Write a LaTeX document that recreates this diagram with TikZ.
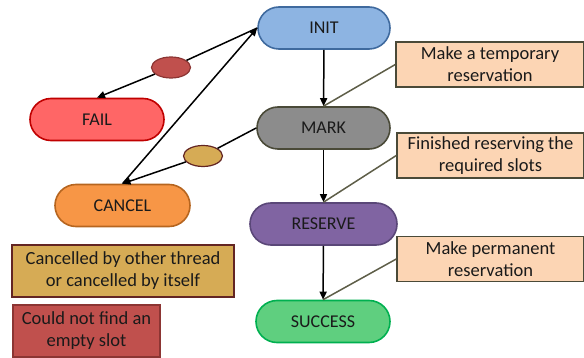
\documentclass[tikz,border=0pt]{standalone}
\usepackage{fontspec}
\setmainfont{Carlito}
\usetikzlibrary{arrows.meta,shapes.geometric}
\definecolor{initf}{HTML}{8DB4E2}\definecolor{initd}{HTML}{3F6A9E}
\definecolor{markf}{HTML}{8C8C8C}\definecolor{markd}{HTML}{4A4A38}
\definecolor{resf}{HTML}{8064A2}\definecolor{resd}{HTML}{5A4778}
\definecolor{sucf}{HTML}{5FCF7F}\definecolor{sucd}{HTML}{00B050}
\definecolor{failf}{HTML}{FF6666}\definecolor{faild}{HTML}{C00000}
\definecolor{canf}{HTML}{F79646}\definecolor{cand}{HTML}{B6651F}
\definecolor{notef}{HTML}{FCD5B4}\definecolor{noted}{HTML}{4A4A38}
\definecolor{goldf}{HTML}{D6AB55}\definecolor{goldd}{HTML}{632523}
\definecolor{redf}{HTML}{C0504D}\definecolor{redd}{HTML}{8C3533}
\definecolor{calline}{HTML}{5E5E48}
\definecolor{txt}{HTML}{1A1A1A}
\tikzset{
  state/.style={draw, line width=1.6pt, rounded corners=21pt, minimum height=42pt, font=\fontsize{18}{21}\selectfont, text=txt, inner sep=0pt},
  note/.style={draw=noted, fill=notef, line width=1.4pt, minimum height=45pt, align=center, font=\fontsize{18.5}{22}\selectfont, text=txt, inner sep=0pt},
  legend/.style={line width=1.4pt, align=center, font=\fontsize{18.5}{22}\selectfont, text=txt, inner sep=0pt},
  blob/.style={ellipse, line width=1.2pt, minimum width=39pt, minimum height=21pt, inner sep=0pt},
  arr/.style={-{Stealth[length=8pt,width=7pt,inset=0pt]}, line width=1.5pt},
  plain/.style={line width=1.5pt},
  callout/.style={draw=calline, line width=1.5pt}
}
\begin{document}
\begin{tikzpicture}[x=1pt,y=-1pt]
\useasboundingbox (0,0) rectangle (584,358);
\node[state, fill=initf, draw=initd, minimum width=132pt] (init) at (324,28) {INIT};
\node[state, fill=markf, draw=markd, minimum width=133pt] (mark) at (323.5,128) {MARK};
\node[state, fill=resf, draw=resd, minimum width=147pt] (reserve) at (323.5,224) {RESERVE};
\node[state, fill=sucf, draw=sucd, minimum width=134pt] (success) at (323,321.5) {SUCCESS};
\node[state, fill=failf, draw=faild, minimum width=134pt] (fail) at (97,119.5) {FAIL};
\node[state, fill=canf, draw=cand, minimum width=135pt] (cancel) at (122.5,205.5) {CANCEL};

\node[note, minimum width=188pt] (n1) at (490,64.5) {Make a temporary\\reservation};
\node[note, minimum width=187pt] (n2) at (490.5,155.5) {Finished reserving the\\required slots};
\node[note, minimum width=187pt] (n3) at (490.5,259) {Make permanent\\reservation};

\node[legend, draw=goldd, fill=goldf, minimum width=222pt, minimum height=52pt] (l1) at (123,271) {Cancelled by other thread\\or cancelled by itself};
\node[legend, draw=redd, fill=redf, minimum width=147pt, minimum height=52pt] (l2) at (86.5,331) {Could not find an\\empty slot};

\node[blob, draw=redd, fill=redf] (e1) at (171,67.5) {};
\node[blob, draw=goldd, fill=goldf] (e2) at (203,156) {};

\draw[arr] (init) -- (mark);
\draw[arr] (mark.south) -- (reserve.north);
\draw[arr] (reserve) -- (success);

\draw[plain] (init.west) -- (e1);
\draw[arr] (e1) -- (fail.north);
\draw[plain] (mark.west) -- (e2);
\draw[arr] (e2) -- (cancel.north);
\draw[arr] (cancel.north) -- (init.west);

\draw[callout] (n1.west) -- (mark.north);
\draw[callout] (n2.west) -- (reserve.north);
\draw[callout] (n3.west) -- (success.north);
\end{tikzpicture}
\end{document}
